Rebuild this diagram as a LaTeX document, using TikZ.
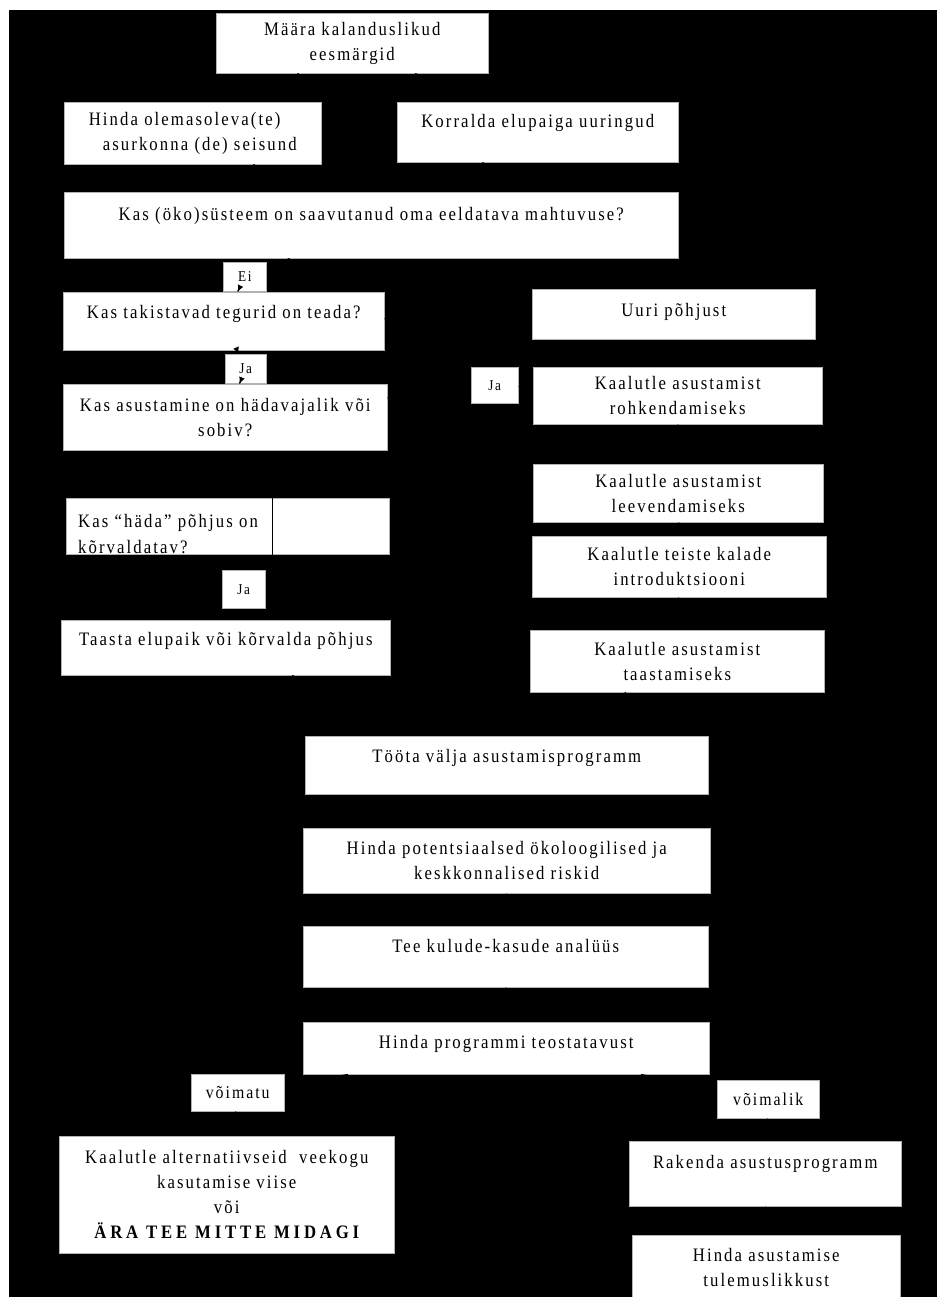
\documentclass[tikz,border=0pt]{standalone}
\usepackage{fontspec}
\setmainfont{Liberation Serif}[FakeStretch=0.88, LetterSpace=11]
\usetikzlibrary{positioning,arrows.meta}

\begin{document}
\begin{tikzpicture}[
    x=1pt, y=-1pt,
    box/.style={fill=white, draw=gray!60, line width=0.5pt, inner sep=0pt, anchor=north west,
                align=center, font=\fontsize{19}{25}\selectfont},
    tag/.style={box, font=\fontsize{15}{18}\selectfont},
    link/.style={draw=black, line width=1.2pt, -{Latex[length=7pt,width=6pt]}}
]

% Page and dark background
\useasboundingbox (0,0) rectangle (937,1297);
\fill[white] (0,0) rectangle (937,1297);
\fill[black] (9,10) rectangle (937,1297);

% Top of the chart
\node[box, minimum width=272, minimum height=60] (maara) at (216,13) {Määra kalanduslikud\\eesmärgid};
\node[box, minimum width=257, minimum height=62, align=left] (olemas) at (64,102) {Hinda olemasoleva(te)\\ \hspace{14pt}asurkonna (de) seisund};
\node[box, minimum width=281, minimum height=60, text depth=23.5] (korralda) at (397,102) {Korralda elupaiga uuringud};
\node[box, minimum width=614, minimum height=66, text depth=23.5] (oko) at (64,192) {Kas (öko)süsteem on saavutanud oma eeldatava mahtuvuse?};

% Left column
\node[tag, minimum width=43, minimum height=29] (ei) at (223,262) {Ei};
\node[box, minimum width=321, minimum height=58, text depth=19.5] (takist) at (63,292) {Kas takistavad tegurid on teada?};
\node[tag, minimum width=41, minimum height=29] (ja1) at (225,354) {Ja};
\node[box, minimum width=324, minimum height=66] (asust) at (63,384) {Kas asustamine on hädavajalik või\\sobiv?};
\node[box, minimum width=323, minimum height=56] (hada) at (66,498) {};
\begin{scope}
  \clip (hada.north west) rectangle (hada.south east);
  \node[anchor=base west, inner sep=0pt, align=left, font=\fontsize{19}{26}\selectfont] (hadat) at (78,553)
    {Kas “häda” põhjus on\\kõrvaldatav?};
\end{scope}
\node[tag, minimum width=43, minimum height=38] (ja2) at (222,570) {Ja};
\node[box, minimum width=329, minimum height=55, text depth=17.5] (taasta) at (61,620) {Taasta elupaik või kõrvalda põhjus};

% Right column
\node[box, minimum width=283, minimum height=50, text depth=9.5] (uuri) at (532,289) {Uuri põhjust};
\node[tag, minimum width=47, minimum height=36] (jar) at (471,367) {Ja};
\node[box, minimum width=289, minimum height=57] (rohk) at (533,367) {Kaalutle asustamist\\rohkendamiseks};
\node[box, minimum width=290, minimum height=58] (leev) at (533,464) {Kaalutle asustamist\\leevendamiseks};
\node[box, minimum width=294, minimum height=61] (teiste) at (532,536) {Kaalutle teiste kalade\\introduktsiooni};
\node[box, minimum width=294, minimum height=62] (taast) at (530,630) {Kaalutle asustamist\\taastamiseks};

% Programme steps
\node[box, minimum width=403, minimum height=58, text depth=19.5] (toota) at (305,736) {Tööta välja asustamisprogramm};
\node[box, minimum width=407, minimum height=65] (risk) at (303,828) {Hinda potentsiaalsed ökoloogilised ja\\keskkonnalised riskid};
\node[box, minimum width=405, minimum height=61, text depth=21.5] (kulud) at (303,926) {Tee kulude-kasude analüüs};
\node[box, minimum width=406, minimum height=52, text depth=13.5] (teost) at (303,1022) {Hinda programmi teostatavust};
\node[tag, font=\fontsize{18}{20}\selectfont, minimum width=93, minimum height=37] (voimatu) at (191,1074) {võimatu};
\node[tag, font=\fontsize{18}{20}\selectfont, minimum width=102, minimum height=38] (voimalik) at (717,1080) {võimalik};
\node[box, minimum width=335, minimum height=117] (altern) at (59,1136)
  {Kaalutle alternatiivseid \ veekogu\\kasutamise viise\\või\\{\bfseries\addfontfeature{LetterSpace=20}ÄRA TEE MITTE MIDAGI}};
\node[box, minimum width=272, minimum height=65, text depth=23.5] (rakenda) at (629,1141) {Rakenda asustusprogramm};
\node[box, minimum width=268, minimum height=65] (tulem) at (632,1235) {Hinda asustamise\\tulemuslikkust};

% Connectors (black on black)
\draw[link] (maara) -- (olemas);
\draw[link] (maara) -- (korralda);
\draw[link] (olemas) -- (oko);
\draw[link] (korralda) -- (oko);
\draw[link] (oko) -- (ei);
\draw[link] (ei) -- (takist);
\draw[link] (takist) -- (uuri);
\draw[link] (takist) -- (ja1);
\draw[link] (ja1) -- (asust);
\draw[link] (asust) -- (jar);
\draw[link] (jar) -- (rohk);
\draw[link] ([xshift=47]asust.south) -- ([xshift=47]asust.south |- taasta.north);
\draw[link] (rohk) -- (leev);
\draw[link] (leev) -- (teiste);
\draw[link] (teiste) -- (taast);
\draw[link] (taast) -- (toota);
\draw[link] (taasta) -- (toota);
\draw[link] (toota) -- (risk);
\draw[link] (risk) -- (kulud);
\draw[link] (kulud) -- (teost);
\draw[link] (teost) -- (voimatu);
\draw[link] (voimatu) -- (altern);
\draw[link] (teost) -- (voimalik);
\draw[link] (voimalik) -- (rakenda);
\draw[link] (rakenda) -- (tulem);

\end{tikzpicture}
\end{document}
